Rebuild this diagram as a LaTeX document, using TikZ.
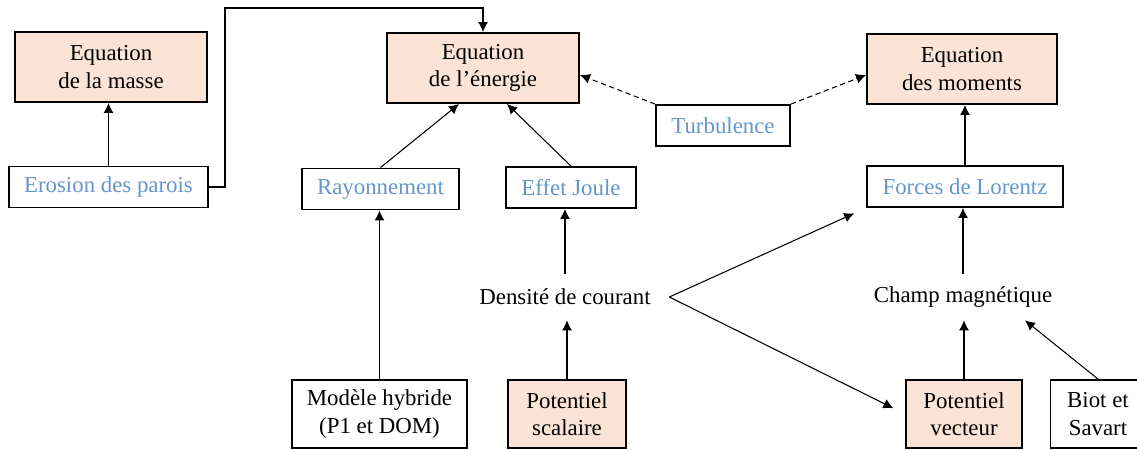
\documentclass[tikz,border=0pt]{standalone}
\usepackage{fontspec}
\setmainfont{Liberation Serif}
\usepackage{tikz}
\usetikzlibrary{calc}
\usetikzlibrary{arrows.meta}
\tikzset{>={Latex[length=2mm,width=2mm]}}
\definecolor{peche}{RGB}{251,228,213}
\definecolor{bleu}{RGB}{100,150,205}

\begin{document}
\begin{tikzpicture}[x=0.02cm,y=-0.02cm,font=\fontsize{13pt}{15.5pt}\selectfont,
	equation/.style={draw,line width=1.1pt,fill=peche,align=center,minimum height=1.4cm},
	phenomene/.style={draw,line width=1.1pt,fill=white,text=bleu,minimum height=0.82cm},
	source/.style={draw,line width=1.1pt,align=center,minimum height=1.36cm},
	fleche/.style={->,line width=0.6pt}]
	\useasboundingbox (0,0) rectangle (1137,450);
	\clip (0,0) rectangle (1137,450);
	% equations
	\node[equation,minimum width=3.84cm] (masse) at (111,67) {Equation\\de la masse};
	\node[equation,minimum width=3.84cm] (energie) at (483,68) {Equation\\de l’énergie};
	\node[equation,minimum width=3.8cm] (moments) at (962,69) {Equation\\des moments};
	% phenomenes
	\node[phenomene,minimum width=3.98cm] (erosion) at (108.5,187) {Erosion des parois};
	\node[phenomene,minimum width=3.14cm] (rayon) at (380.5,189) {Rayonnement};
	\node[phenomene,minimum width=2.6cm] (joule) at (571,187.5) {Effet Joule};
	\node[phenomene,minimum width=2.68cm] (turbulence) at (723,125.5) {Turbulence};
	\node[phenomene,minimum width=3.92cm] (lorentz) at (965,186.5) {Forces de Lorentz};
	% grandeurs
	\node[minimum width=4.16cm,minimum height=0.92cm] (densite) at (565,297) {Densité de courant};
	\node[minimum height=0.92cm] (champ) at (963,297) {Champ magnétique};
	% modeles
	\node[source,minimum width=3.5cm] (modele) at (379.5,414) {Modèle hybride\\(P1 et DOM)};
	\node[source,fill=peche,minimum width=2.36cm] (scalaire) at (567,414) {Potentiel\\scalaire};
	\node[source,fill=peche,minimum width=2.32cm] (vecteur) at (964,414) {Potentiel\\vecteur};
	\node[source,minimum width=1.9cm] (biot) at (1098,414) {Biot et\\Savart};
	\coordinate (coin) at (225,8);
	% liens
	\draw[fleche] (erosion.north)--(erosion.north |- masse.south);
	\draw[fleche] (erosion.east)-|(coin)-|(energie.north);
	\draw[fleche] (rayon.north)--([xshift=-0.48cm]energie.south);
	\draw[fleche] (joule.north)--([xshift=0.48cm]energie.south);
	\draw[fleche,dash pattern=on 3pt off 2pt] (turbulence.north west)--([yshift=-0.14cm]energie.east);
	\draw[fleche,dash pattern=on 3pt off 2pt] (turbulence.north east)--([yshift=-0.12cm]moments.west);
	\draw[fleche] (lorentz.north)--(lorentz.north |- moments.south);
	\draw[fleche] (modele.north)--(modele.north |- rayon.south);
	\draw[fleche] (densite.north)--(densite.north |- joule.south);
	\draw[fleche] (scalaire.north)--(scalaire.north |- densite.south);
	\draw[fleche,shorten >=2.6mm] (densite.east)--(lorentz.south west);
	\draw[fleche,shorten >=2.6mm] (densite.east)--(vecteur.west);
	\draw[fleche] (champ.north)--(champ.north |- lorentz.south);
	\draw[fleche] (vecteur.north)--(vecteur.north |- champ.south);
	\draw[fleche] (biot.north)--([xshift=1.24cm]champ.south);
\end{tikzpicture}
\end{document}
